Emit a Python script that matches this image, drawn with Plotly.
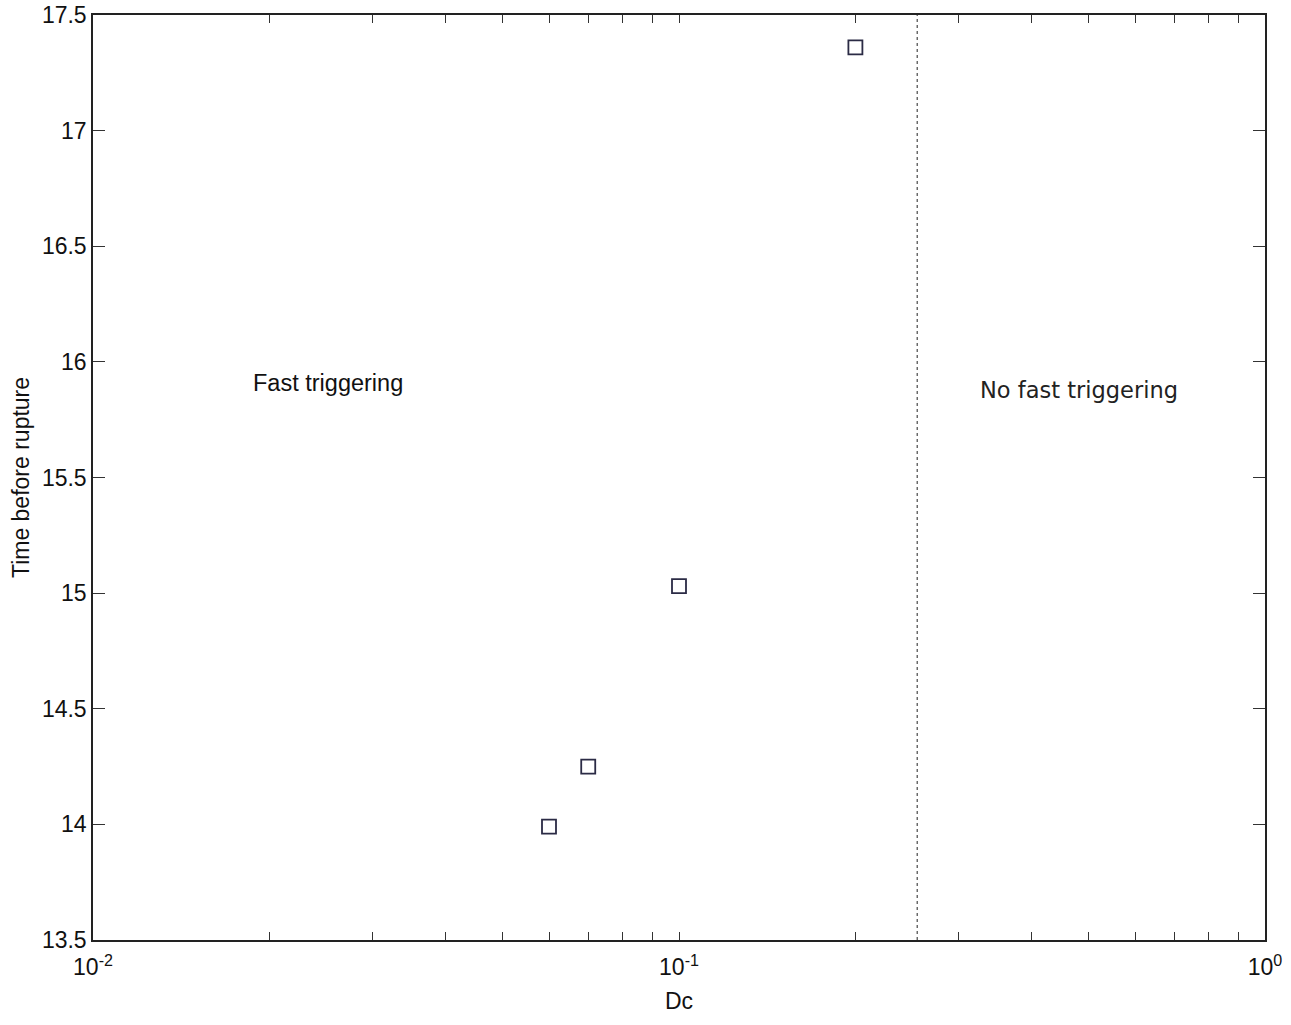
import plotly.graph_objects as go

dc = [0.06, 0.07, 0.1, 0.2]
time_before = [13.99, 14.25, 15.03, 17.36]
threshold_dc = 0.255
y_ticks = [13.5, 14, 14.5, 15, 15.5, 16, 16.5, 17, 17.5]
decades = [0.01, 0.1, 1]
decade_labels = ["10<sup>-2</sup>", "10<sup>-1</sup>", "10<sup>0</sup>"]

minor_vals = [d * m for d in decades[:-1] for m in range(2, 10)]

fig = go.Figure()
fig.add_trace(go.Scatter(
    x=dc, y=time_before, mode="markers",
    marker=dict(symbol="square-open", size=14, color="#2b2b45", line=dict(width=1.8)),
    showlegend=False,
))
fig.add_trace(go.Scatter(
    x=[threshold_dc, threshold_dc], y=[13.5, 17.5], mode="lines",
    line=dict(color="#555555", width=1.3, dash="dot"),
    showlegend=False,
))

fig.add_annotation(x=-1.599, y=15.91, xref="x", yref="y", text="Fast triggering",
                   showarrow=False, font=dict(family="Liberation Sans, Arial", size=23.5, color="#111"))
fig.add_annotation(x=-0.317, y=15.88, xref="x", yref="y", text="No fast triggering",
                   showarrow=False, font=dict(family="DejaVu Sans", size=22.5, color="#222"))

fig.update_layout(
    width=1291, height=1025,
    margin=dict(l=93, r=26, t=15, b=85),
    plot_bgcolor="white", paper_bgcolor="white",
    font=dict(family="Liberation Sans, Arial", size=23, color="#111"),
    xaxis=dict(
        type="log", range=[-2, 0], tickvals=decades, ticktext=decade_labels,
        ticks="inside", ticklen=8, tickcolor="#333", mirror="ticks",
        minor=dict(tickvals=minor_vals, ticks="inside", ticklen=8, tickcolor="#333", showgrid=False),
        showline=True, linecolor="#222", linewidth=1.5, showgrid=False, zeroline=False,
        title=dict(text="Dc", font=dict(size=23), standoff=14),
        tickfont=dict(size=23), automargin=False, ticklabelstandoff=6,
    ),
    yaxis=dict(
        range=[13.5, 17.5], tickvals=y_ticks, ticktext=[str(v) for v in y_ticks],
        ticks="inside", ticklen=12, tickcolor="#333", mirror="ticks",
        showline=True, linecolor="#222", linewidth=1.5, showgrid=False, zeroline=False,
        title=dict(text="Time before rupture", font=dict(size=23), standoff=6),
        tickfont=dict(size=23), automargin=False,
    ),
)

fig.write_html(
    "out.html",
    config={"displayModeBar": False},
    post_script="document.body.style.margin='0';document.body.style.overflow='hidden';",
)
